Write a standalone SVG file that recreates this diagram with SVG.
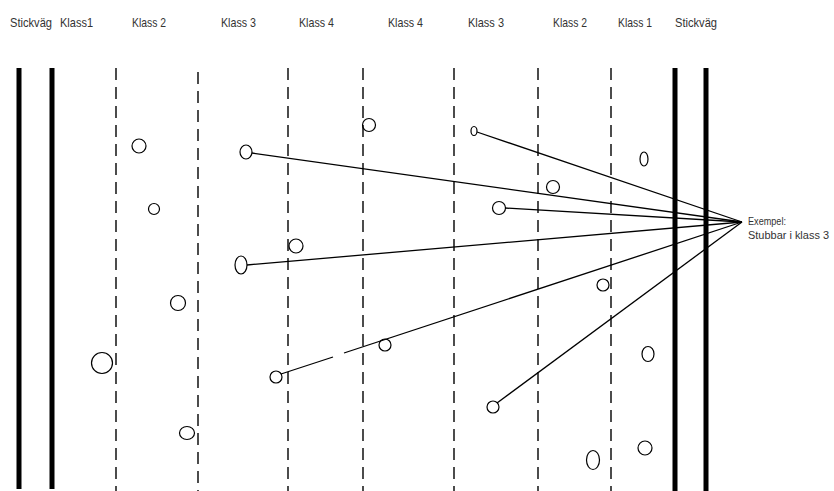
<svg xmlns="http://www.w3.org/2000/svg" width="834" height="491" viewBox="0 0 834 491">
<style>
.road{stroke:#000;stroke-width:5;fill:none}
.div{stroke:#000;stroke-width:1.4;stroke-dasharray:12 7;fill:none}
.tree{fill:none;stroke:#000;stroke-width:1.2}
.conn{stroke:#000;stroke-width:1.3;fill:none}
.lbl{font-family:"Liberation Sans",Arial,sans-serif;font-size:13px;fill:#333}
.ex{font-family:"Liberation Sans",Arial,sans-serif;font-size:11px;fill:#333}
</style>
<rect width="834" height="491" fill="#fff"/>
<g id="labels">
<text class="lbl" x="10" y="27" textLength="42" lengthAdjust="spacingAndGlyphs">Stickväg</text>
<text class="lbl" x="60" y="27" textLength="33" lengthAdjust="spacingAndGlyphs">Klass1</text>
<text class="lbl" x="132" y="27" textLength="34" lengthAdjust="spacingAndGlyphs">Klass 2</text>
<text class="lbl" x="221" y="27" textLength="35" lengthAdjust="spacingAndGlyphs">Klass 3</text>
<text class="lbl" x="299" y="27" textLength="35" lengthAdjust="spacingAndGlyphs">Klass 4</text>
<text class="lbl" x="388" y="27" textLength="35" lengthAdjust="spacingAndGlyphs">Klass 4</text>
<text class="lbl" x="468" y="27" textLength="36" lengthAdjust="spacingAndGlyphs">Klass 3</text>
<text class="lbl" x="553" y="27" textLength="34" lengthAdjust="spacingAndGlyphs">Klass 2</text>
<text class="lbl" x="618" y="27" textLength="34" lengthAdjust="spacingAndGlyphs">Klass 1</text>
<text class="lbl" x="675" y="27" textLength="42" lengthAdjust="spacingAndGlyphs">Stickväg</text>
</g>
<g id="roads">
<line class="road" x1="19" y1="68" x2="19" y2="489"/>
<line class="road" x1="52" y1="68" x2="52" y2="489"/>
<line class="road" x1="675" y1="68" x2="675" y2="491"/>
<line class="road" x1="706" y1="68" x2="706" y2="491"/>
</g>
<g id="dividers">
<line class="div" x1="116" y1="68" x2="116" y2="491"/>
<line class="div" x1="198" y1="72" x2="198" y2="491"/>
<line class="div" x1="288" y1="68" x2="288" y2="491"/>
<line class="div" x1="363" y1="68" x2="363" y2="491"/>
<line class="div" x1="454" y1="68" x2="454" y2="491"/>
<line class="div" x1="538" y1="68" x2="538" y2="491"/>
<line class="div" x1="611" y1="68" x2="611" y2="491"/>
</g>
<g id="trees">
<circle class="tree" cx="139" cy="146" r="7"/>
<circle class="tree" cx="154" cy="209" r="5.5"/>
<circle class="tree" cx="178" cy="303" r="7.5"/>
<circle class="tree" cx="102" cy="363" r="10.5"/>
<ellipse class="tree" cx="187" cy="433" rx="7.5" ry="6.5"/>
<ellipse class="tree" cx="246" cy="152" rx="6" ry="7"/>
<ellipse class="tree" cx="241" cy="265" rx="6" ry="9"/>
<circle class="tree" cx="296" cy="246" r="7"/>
<circle class="tree" cx="276" cy="377" r="6"/>
<circle class="tree" cx="369" cy="125" r="6.5"/>
<circle class="tree" cx="385" cy="345" r="6"/>
<ellipse class="tree" cx="474" cy="131" rx="3" ry="4.5"/>
<circle class="tree" cx="499" cy="208" r="6.5"/>
<circle class="tree" cx="553" cy="187" r="6.5"/>
<circle class="tree" cx="603" cy="285" r="6"/>
<ellipse class="tree" cx="644" cy="159" rx="4" ry="7"/>
<ellipse class="tree" cx="648" cy="354" rx="6" ry="7.5"/>
<circle class="tree" cx="493" cy="407" r="6"/>
<ellipse class="tree" cx="593" cy="460" rx="6.5" ry="9.5"/>
<circle class="tree" cx="645" cy="448" r="7"/>
</g>
<g id="connectors">
<line class="conn" x1="252" y1="153" x2="742" y2="222"/>
<line class="conn" x1="477" y1="132" x2="742" y2="222"/>
<line class="conn" x1="505" y1="208" x2="742" y2="222"/>
<line class="conn" x1="247" y1="265" x2="742" y2="222"/>
<line class="conn" x1="281" y1="374" x2="333" y2="357"/>
<line class="conn" x1="344" y1="353" x2="742" y2="222"/>
<line class="conn" x1="497" y1="403" x2="742" y2="222"/>
</g>
<g id="example">
<text class="ex" x="748" y="225" textLength="38" lengthAdjust="spacingAndGlyphs">Exempel:</text>
<text class="ex" x="748" y="239" textLength="81" lengthAdjust="spacingAndGlyphs">Stubbar i klass 3</text>
</g>
</svg>
